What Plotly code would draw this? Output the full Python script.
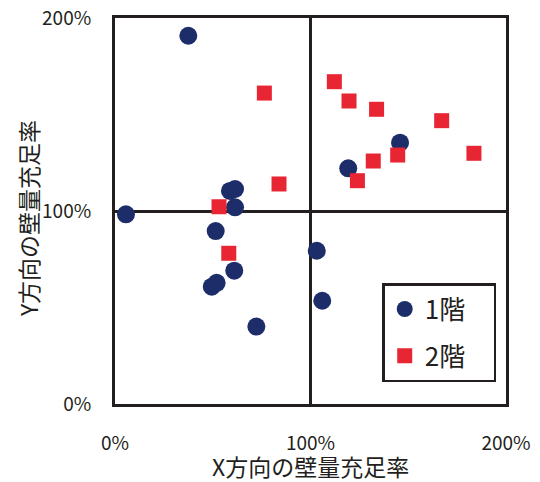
import plotly.graph_objects as go

# 1階 (blue circles): X方向, Y方向 wall sufficiency ratio in %
floor1_x = [37.5, 5.6, 58.8, 61.4, 61.4, 51.5, 61.0, 49.5, 52.0, 72.3, 103.2, 106.0, 145.8, 119.3]
floor1_y = [190.8, 98.3, 110.4, 111.4, 101.9, 89.6, 69.1, 60.8, 62.8, 40.1, 79.4, 53.5, 135.4, 122.1]

# 2階 (red squares)
floor2_x = [76.4, 83.9, 53.2, 58.2, 112.2, 119.7, 133.8, 167.1, 183.6, 144.6, 132.1, 124.0]
floor2_y = [161.1, 114.0, 102.2, 78.1, 167.0, 157.0, 152.7, 146.8, 129.9, 129.0, 125.9, 115.7]

tick_vals = [0, 100, 200]
tick_text = ["0%", "100%", "200%"]

ink = "#231f20"
font_family = "Noto Sans CJK JP"
pad = "\u00a0" * 4  # widens the legend box on the right

fig = go.Figure()
fig.add_trace(go.Scatter(
    x=floor1_x, y=floor1_y, mode="markers", name="1階" + pad,
    legendgroup="a",
    marker=dict(symbol="circle", size=18, color="#1c2d6a"),
    cliponaxis=False,
))
fig.add_trace(go.Scatter(
    x=floor2_x, y=floor2_y, mode="markers", name="2階" + pad,
    legendgroup="b",
    marker=dict(symbol="square", size=15, color="#e82532"),
    cliponaxis=False,
))

axis_common = dict(
    range=[0, 200], tickvals=tick_vals, ticktext=tick_text,
    showgrid=True, gridcolor=ink, gridwidth=3,
    showline=True, linecolor=ink, linewidth=3, mirror=True,
    zeroline=False, ticks="", fixedrange=True, automargin=False,
    ticklabeloverflow="allow",
    tickfont=dict(size=19, color=ink, family=font_family),
)

fig.update_xaxes(**axis_common, ticklabelstandoff=20)
fig.update_yaxes(**axis_common, ticklabelstandoff=17)

# axis titles as annotations so they sit where the reference has them
title_font = dict(size=23, color=ink, family=font_family)
fig.add_annotation(text="X方向の壁量充足率", xref="paper", yref="paper",
                   x=0.5, y=-0.16, xanchor="center", yanchor="middle",
                   showarrow=False, font=title_font)
fig.add_annotation(text="Y方向の壁量充足率", xref="paper", yref="paper",
                   x=-0.2225, y=0.479, xanchor="center", yanchor="middle",
                   textangle=-90, showarrow=False, font=title_font)

# page body has an 8px margin, so the figure is a bit smaller than the window
fig.update_layout(
    width=532, height=474,
    margin=dict(l=107, r=34, t=10, b=78),
    plot_bgcolor="white", paper_bgcolor="white",
    font=dict(family=font_family, color=ink),
    legend=dict(
        x=0.975, xanchor="right", y=0.185, yanchor="middle",
        bordercolor=ink, borderwidth=2.5, bgcolor="white",
        font=dict(size=26, color=ink, family=font_family),
        tracegroupgap=10, itemwidth=30,
    ),
)

fig.write_html("out.html")
